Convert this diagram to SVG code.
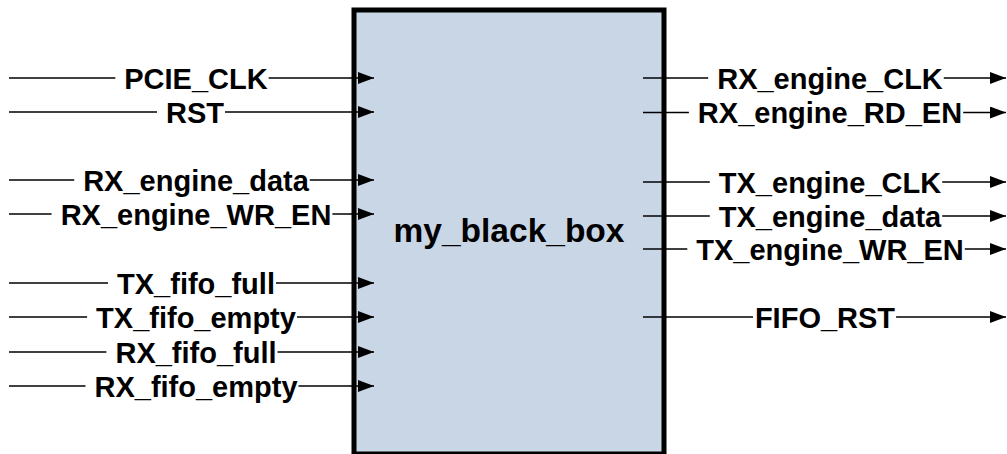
<svg xmlns="http://www.w3.org/2000/svg" width="1007" height="454" viewBox="0 0 1007 454">
<defs>
<marker id="arr" viewBox="0 0 16 12" refX="16" refY="6" markerWidth="16" markerHeight="12" markerUnits="userSpaceOnUse" orient="auto">
<path d="M0,0 L16,6 L0,12 Z" fill="#000"/>
</marker>
<style>
.w{stroke:#000;stroke-width:1.3;fill:none}
.a{marker-end:url(#arr)}
.lbl{font-family:"Liberation Sans",Arial,sans-serif;font-weight:bold;font-size:29px;fill:#000;text-anchor:middle}
.title{font-family:"Liberation Sans",Arial,sans-serif;font-weight:bold;font-size:33.5px;fill:#000;text-anchor:middle}
.box{fill:#C9D6E6;stroke:#000;stroke-width:5}
</style>
</defs>
<rect width="1007" height="454" fill="#fff"/>
<g id="my_black_box">
<rect class="box" x="354" y="10" width="310" height="444"/>
<text class="title" x="509" y="242">my_black_box</text>
</g>
<g id="connectors">
<g id="c_PCIE_CLK"><line class="w" x1="9" y1="78" x2="115.3" y2="78"/><line class="w a" x1="268.7" y1="78" x2="374" y2="78"/><text class="lbl" x="196" y="88.5">PCIE_CLK</text></g>
<g id="c_RST"><line class="w" x1="9" y1="112" x2="157" y2="112"/><line class="w a" x1="225" y1="112" x2="374" y2="112"/><text class="lbl" x="195" y="122.5">RST</text></g>
<g id="c_RX_engine_data"><line class="w" x1="9" y1="180" x2="74.2" y2="180"/><line class="w a" x1="309.8" y1="180" x2="374" y2="180"/><text class="lbl" x="196" y="190.5">RX_engine_data</text></g>
<g id="c_RX_engine_WR_EN"><line class="w" x1="9" y1="214" x2="51.6" y2="214"/><line class="w a" x1="332.4" y1="214" x2="374" y2="214"/><text class="lbl" x="196" y="224.5">RX_engine_WR_EN</text></g>
<g id="c_TX_fifo_full"><line class="w" x1="9" y1="283" x2="108" y2="283"/><line class="w a" x1="276" y1="283" x2="374" y2="283"/><text class="lbl" x="196" y="293.5">TX_fifo_full</text></g>
<g id="c_TX_fifo_empty"><line class="w" x1="9" y1="317" x2="87.1" y2="317"/><line class="w a" x1="297" y1="317" x2="374" y2="317"/><text class="lbl" x="196" y="327.5">TX_fifo_empty</text></g>
<g id="c_RX_fifo_full"><line class="w" x1="9" y1="352" x2="106.4" y2="352"/><line class="w a" x1="277.5" y1="352" x2="374" y2="352"/><text class="lbl" x="196" y="362.5">RX_fifo_full</text></g>
<g id="c_RX_fifo_empty"><line class="w" x1="9" y1="386" x2="85.5" y2="386"/><line class="w a" x1="298.5" y1="386" x2="374" y2="386"/><text class="lbl" x="196" y="396.5">RX_fifo_empty</text></g>
<g id="c_RX_engine_CLK"><line class="w" x1="643" y1="78" x2="708.2" y2="78"/><line class="w a" x1="943.8" y1="78" x2="1006" y2="78"/><text class="lbl" x="830" y="88.5">RX_engine_CLK</text></g>
<g id="c_RX_engine_RD_EN"><line class="w" x1="643" y1="112.5" x2="688.9" y2="112.5"/><line class="w a" x1="963.2" y1="112.5" x2="1006" y2="112.5"/><text class="lbl" x="830" y="123">RX_engine_RD_EN</text></g>
<g id="c_TX_engine_CLK"><line class="w" x1="643" y1="182" x2="709.8" y2="182"/><line class="w a" x1="942.2" y1="182" x2="1006" y2="182"/><text class="lbl" x="830" y="192.5">TX_engine_CLK</text></g>
<g id="c_TX_engine_data"><line class="w" x1="643" y1="216" x2="709.8" y2="216"/><line class="w a" x1="942.2" y1="216" x2="1006" y2="216"/><text class="lbl" x="830" y="226.5">TX_engine_data</text></g>
<g id="c_TX_engine_WR_EN"><line class="w" x1="643" y1="249" x2="687.3" y2="249"/><line class="w a" x1="964.8" y1="249" x2="1006" y2="249"/><text class="lbl" x="830" y="259.5">TX_engine_WR_EN</text></g>
<g id="c_FIFO_RST"><line class="w" x1="643" y1="317" x2="753" y2="317"/><line class="w a" x1="896.1" y1="317" x2="1006" y2="317"/><text class="lbl" x="825" y="327.5">FIFO_RST</text></g>
</g>
</svg>
